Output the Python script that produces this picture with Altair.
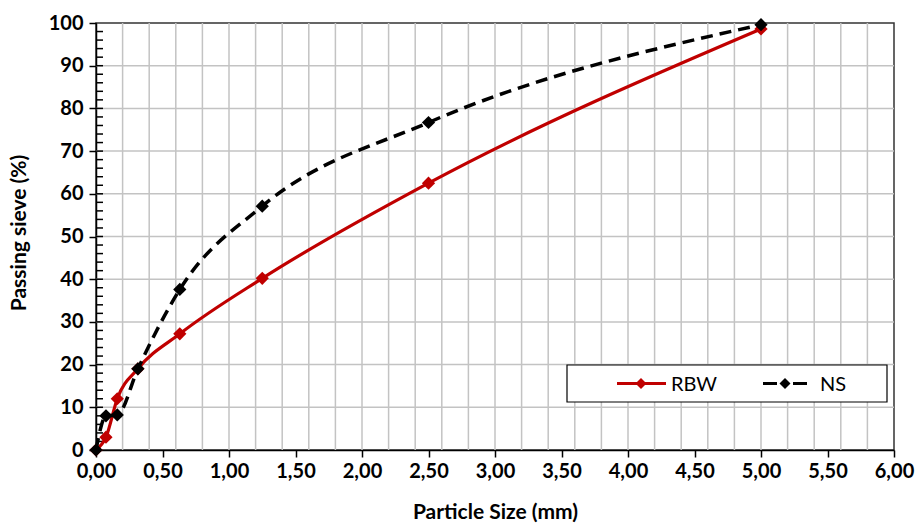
import altair as alt
import pandas as pd
import numpy as np

# ---- data ----
sizes = [0.0, 0.075, 0.16, 0.315, 0.63, 1.25, 2.5, 5.0]
rbw = [0.0, 3.0, 12.0, 19.0, 27.2, 40.2, 62.5, 98.6]
ns = [0.0, 8.0, 8.2, 19.0, 37.6, 57.1, 76.7, 99.6]

x_labels = [0, 0.5, 1, 1.5, 2, 2.5, 3, 3.5, 4, 4.5, 5, 5.5, 6]
y_labels = [0, 10, 20, 30, 40, 50, 60, 70, 80, 90, 100]
x_grid = [round(0.2 * i, 2) for i in range(1, 30)]
y_grid = [10, 20, 30, 40, 50, 60, 70, 80, 90]
y_minor = [v for v in range(2, 100, 2)]

W, H = 798, 427
FONT = "Lato"

df = pd.DataFrame({
    "size": sizes * 2,
    "passing": rbw + ns,
    "series": ["RBW"] * len(sizes) + ["NS"] * len(sizes),
})
gx = pd.DataFrame({"g": x_grid})
gy = pd.DataFrame({"g": y_grid})
gm = pd.DataFrame({"g": y_minor})
one = pd.DataFrame({"a": [0]})

xscale = alt.Scale(domain=[0, 6], nice=False, zero=False)
yscale = alt.Scale(domain=[0, 100], nice=False)

xaxis = alt.Axis(
    title="Particle Size (mm)", values=x_labels, grid=False, labelFlush=False,
    format=".2f", labelExpr="replace(datum.label, '.', ',')",
    tickSize=7, tickColor="#000", domainColor="#000", tickWidth=1.5, domainWidth=1.5,
    labelFont=FONT, labelFontSize=20, labelFontWeight="bold", labelColor="#000",
    labelPadding=4, titleFont=FONT, titleFontSize=21, titleFontWeight="bold",
    titleColor="#000", titleY=62, titleBaseline="middle",
)
yaxis = alt.Axis(
    title="Passing sieve (%)", values=y_labels, grid=False, labelFlush=False,
    tickSize=7, tickColor="#000", domainColor="#000", tickWidth=1.5, domainWidth=1.5,
    labelFont=FONT, labelFontSize=20, labelFontWeight="bold", labelColor="#000",
    labelPadding=6, titleFont=FONT, titleFontSize=21, titleFontWeight="bold",
    titleColor="#000", titleX=-77, titleY=H / 2 - 4, titleBaseline="middle", titleAngle=270,
)


def X(f):
    return alt.X(f, type="quantitative", scale=xscale, axis=xaxis)


def Y(f):
    return alt.Y(f, type="quantitative", scale=yscale, axis=yaxis)


grid_color = "#c3c3c3"
vgrid = alt.Chart(gx).mark_rule(color=grid_color, strokeWidth=1.5).encode(x=X("g"))
hgrid = alt.Chart(gy).mark_rule(color=grid_color, strokeWidth=1.5).encode(y=Y("g"))
minor = alt.Chart(gm).mark_rule(color="#000", strokeWidth=1.5).encode(
    y=Y("g"), x=alt.value(0), x2=alt.value(7)
)

base = alt.Chart(df)
rbw_line = base.transform_filter("datum.series == 'RBW'").mark_line(
    color="#c00000", strokeWidth=3.2, interpolate="monotone"
).encode(x=X("size"), y=Y("passing"))
rbw_pts = base.transform_filter("datum.series == 'RBW'").mark_point(
    shape="diamond", filled=True, color="#c00000", size=175, opacity=1
).encode(x=X("size"), y=Y("passing"))
ns_line = base.transform_filter("datum.series == 'NS'").mark_line(
    color="#000", strokeWidth=3.5, strokeDash=[12, 7], interpolate="monotone"
).encode(x=X("size"), y=Y("passing"))
ns_pts = base.transform_filter("datum.series == 'NS'").mark_point(
    shape="diamond", filled=True, color="#000", size=175, opacity=1
).encode(x=X("size"), y=Y("passing"))

# ---- legend box ----
LX0, LX1, LY0, LY1 = 471, 791, 342, 379
LYC = (LY0 + LY1) / 2
lg = alt.Chart(one)
leg_box = lg.mark_rect(fill="white", stroke="#000", strokeWidth=1.2).encode(
    x=alt.value(LX0), x2=alt.value(LX1), y=alt.value(LY0), y2=alt.value(LY1)
)
leg_r_line = lg.mark_rule(color="#c00000", strokeWidth=3).encode(
    x=alt.value(521), x2=alt.value(570), y=alt.value(LYC)
)
leg_r_pt = lg.mark_point(shape="diamond", filled=True, color="#c00000", size=120, opacity=1).encode(
    x=alt.value(545), y=alt.value(LYC)
)
leg_r_txt = lg.mark_text(text="RBW", align="left", baseline="middle", font=FONT,
                         fontSize=20, color="#000").encode(x=alt.value(575), y=alt.value(LYC + 1))
leg_n_line1 = lg.mark_rule(color="#000", strokeWidth=3).encode(
    x=alt.value(667), x2=alt.value(681), y=alt.value(LYC)
)
leg_n_line2 = lg.mark_rule(color="#000", strokeWidth=3).encode(
    x=alt.value(697), x2=alt.value(711), y=alt.value(LYC)
)
leg_n_pt = lg.mark_point(shape="diamond", filled=True, color="#000", size=120, opacity=1).encode(
    x=alt.value(689), y=alt.value(LYC)
)
leg_n_txt = lg.mark_text(text="NS", align="left", baseline="middle", font=FONT,
                         fontSize=20, color="#000").encode(x=alt.value(724), y=alt.value(LYC + 1))

chart = alt.layer(
    vgrid, hgrid, minor, rbw_line, rbw_pts, ns_line, ns_pts,
    leg_box, leg_r_line, leg_r_pt, leg_r_txt, leg_n_line1, leg_n_line2, leg_n_pt, leg_n_txt,
).properties(
    width=W, height=H,
    autosize=alt.AutoSizeParams(type="none"),
    padding={"left": 96, "top": 23, "right": 21, "bottom": 75},
    background="white",
).configure_view(stroke="#333", strokeWidth=1.5)

chart.save("out.html", embed_options={"renderer": "svg", "actions": False})
